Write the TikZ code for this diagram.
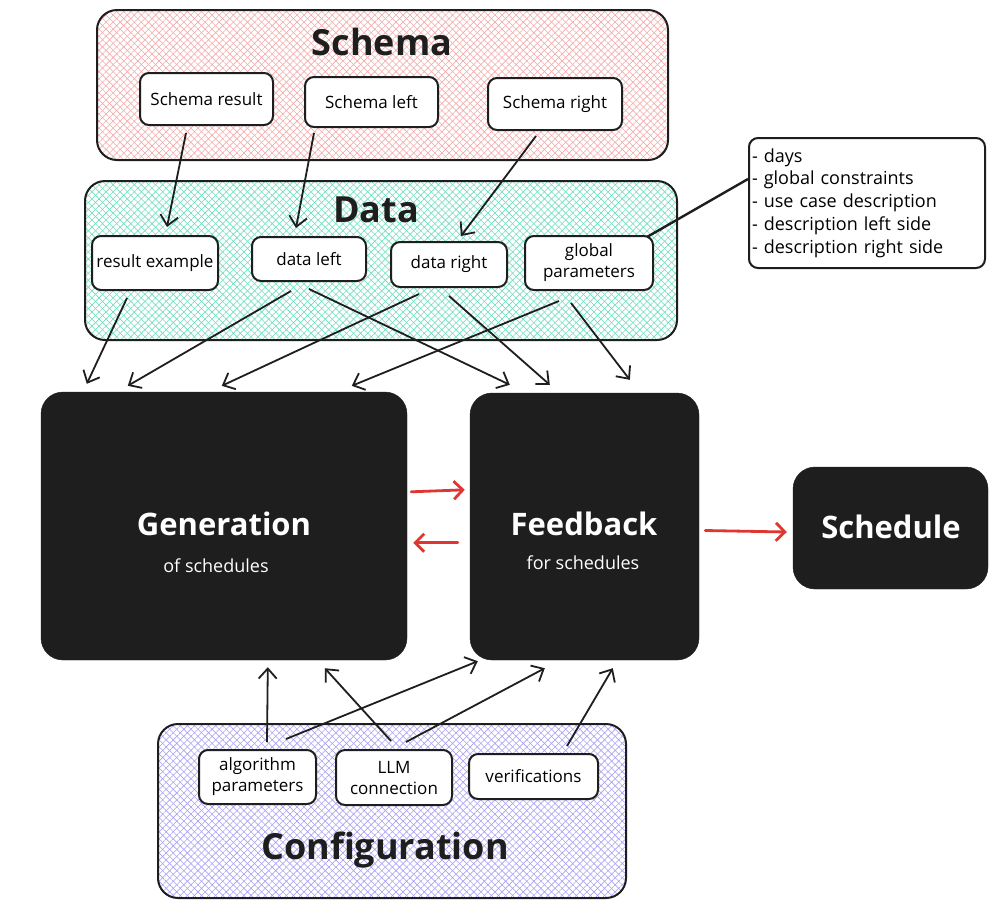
\documentclass[tikz,border=0pt]{standalone}
\usepackage{fontspec}
\setmainfont{Open Sans}
\usetikzlibrary{patterns.meta,arrows.meta,calc}
\definecolor{pinkline}{RGB}{244,170,170}
\definecolor{tealline}{RGB}{110,222,190}
\definecolor{lavline}{RGB}{170,160,245}
\definecolor{dark}{RGB}{30,30,30}
\definecolor{redarr}{RGB}{222,55,50}
\newcommand{\fsz}[2]{\fontsize{#1}{#2}\selectfont}
\tikzset{
  hatch/.style={preaction={pattern={Lines[angle=45,distance=5pt,line width=0.6pt]},pattern color=#1},
                preaction={pattern={Lines[angle=-45,distance=5pt,line width=0.6pt]},pattern color=#1}},
  group/.style={draw=dark,line width=2pt,rounded corners=20pt,inner sep=0pt,rectangle},
  wbox/.style={draw=dark,fill=white,line width=2pt,rounded corners=9pt,inner sep=1pt,align=center,font=\fsz{17}{21}},
  bbox/.style={fill=dark,draw=dark,rounded corners=22pt,inner sep=0pt},
  title/.style={font=\fsz{36}{40}\bfseries,text=dark},
  wtitle/.style={font=\fsz{31}{34}\bfseries,text=white},
  wsub/.style={font=\fsz{18}{20},text=white},
  arr/.style={draw=dark,line width=1.8pt,-{Straight Barb[length=10pt,width=18pt,line width=1.8pt]}},
  rarr/.style={draw=redarr,line width=2.8pt,line cap=round,-{Straight Barb[length=9pt,width=18pt,line width=2.8pt]}},
}
\begin{document}
\begin{tikzpicture}[x=1pt,y=-1pt]
\useasboundingbox (0,0) rectangle (993,906);
\fill[white] (0,0) rectangle (993,906);
% containers
\node[group,hatch=pinkline,minimum width=571pt,minimum height=150pt] (schema) at (382.5,85) {};
\node[group,hatch=tealline,minimum width=592pt,minimum height=159pt] (data) at (381,260.5) {};
\node[group,hatch=lavline,minimum width=468pt,minimum height=174pt] (config) at (392,811) {};
\node[title] (schematitle) at (382,42) {Schema};
\node[title] (datatitle) at (376,210) {Data};
\node[title] (configtitle) at (385,850) {Configuration};
% schema boxes
\node[wbox,minimum width=133pt,minimum height=52pt] (sres) at (206.5,99) {Schema result};
\node[wbox,minimum width=133pt,minimum height=50pt] (sl) at (371.5,102) {Schema left};
\node[wbox,minimum width=134pt,minimum height=52pt] (sr) at (555,104) {Schema right};
% data boxes
\node[wbox,minimum width=126pt,minimum height=54pt] (rex) at (155,263) {result example};
\node[wbox,minimum width=114pt,minimum height=44pt] (dl) at (309,259) {data left};
\node[wbox,minimum width=116pt,minimum height=45pt] (dr) at (449,264.5) {data right};
\node[wbox,minimum width=128pt,minimum height=54pt] (gp) at (589,263) {global\\parameters};
% notes
\node[wbox,minimum width=236pt,minimum height=130pt,text width=230pt,align=left,inner sep=3pt,font=\fsz{18}{22.8}] (notes) at (867,203)
  {- days\\- global constraints\\- use case description\\- description left side\\- description right side};
% config boxes
\node[wbox,minimum width=117pt,minimum height=54pt] (alg) at (257.5,777) {algorithm\\parameters};
\node[wbox,minimum width=116pt,minimum height=55pt] (llm) at (394,777.5) {LLM\\connection};
\node[wbox,minimum width=129pt,minimum height=45pt] (ver) at (533.5,776.5) {verifications};
% black boxes
\node[bbox,minimum width=366pt,minimum height=268pt] (gen) at (224,526) {};
\node[bbox,minimum width=229pt,minimum height=267pt] (fb) at (584.5,526.5) {};
\node[bbox,minimum width=195pt,minimum height=122pt] (sch) at (890.5,528) {};
\node[wtitle] (gentitle) at (224,524) {Generation};
\node[wsub] (gensub) at (216,566) {of schedules};
\node[wtitle] (fbtitle) at (584,524) {Feedback};
\node[wsub] (fbsub) at (583,563) {for schedules};
\node[wtitle] (schtitle) at (891,527) {Schedule};
% schema -> data
\draw[arr] ([xshift=47pt,yshift=-7pt]sres.south west) -- ([xshift=76pt,yshift=8pt]rex.north west);
\draw[arr] ([xshift=10pt,yshift=-5pt]sl.south west) -- ([xshift=45pt,yshift=8pt]dl.north west);
\draw[arr] ([xshift=49pt,yshift=-5pt]sr.south west) -- ([xshift=71pt,yshift=5pt]dr.north west);
% notes line
\draw[draw=dark,line width=2.4pt] ([xshift=-7pt,yshift=-2pt]gp.north east) -- ([yshift=-42pt]notes.north west);
% data -> gen / feedback
\draw[arr] ([xshift=36pt,yshift=-7pt]rex.south west) -- ([xshift=46pt,yshift=8pt]gen.north west);
\draw[arr] ([xshift=40pt,yshift=-9pt]dl.south west) -- ([xshift=87pt,yshift=6pt]gen.north west);
\draw[arr] ([xshift=58pt,yshift=-7pt]dl.south west) -- ([xshift=40pt,yshift=8pt]fb.north west);
\draw[arr] ([xshift=29pt,yshift=-6pt]dr.south west) -- ([xshift=181pt,yshift=6pt]gen.north west);
\draw[arr] ([xshift=59pt,yshift=-8pt]dr.south west) -- ([xshift=80pt,yshift=8pt]fb.north west);
\draw[arr] ([xshift=35pt,yshift=-10pt]gp.south west) -- ([xshift=311pt,yshift=6pt]gen.north west);
\draw[arr] ([xshift=47pt,yshift=-12pt]gp.south west) -- ([xshift=160pt,yshift=13pt]fb.north west);
% red arrows
\draw[rarr] ([xshift=4pt,yshift=-100pt]gen.north east) -- ([xshift=-5pt,yshift=-97pt]fb.north west);
\draw[rarr] ([xshift=-12pt,yshift=-150pt]fb.north west) -- ([xshift=6pt,yshift=-151pt]gen.north east);
\draw[rarr] ([xshift=6pt,yshift=-4pt]fb.east) -- ([xshift=-6pt,yshift=-4pt]sch.west);
% config -> gen / feedback
\draw[arr] ([xshift=69pt,yshift=7pt]alg.north west) -- ([xshift=227pt,yshift=-7pt]gen.south west);
\draw[arr] ([xshift=88pt,yshift=10pt]alg.north west) -- ([xshift=8pt,yshift=-1pt]fb.south west);
\draw[arr] ([xshift=56pt,yshift=8pt]llm.north west) -- ([xshift=284pt,yshift=-8pt]gen.south west);
\draw[arr] ([xshift=71pt,yshift=7pt]llm.north west) -- ([xshift=75pt,yshift=-8pt]fb.south west);
\draw[arr] ([xshift=99pt,yshift=7pt]ver.north west) -- ([xshift=143pt,yshift=-8pt]fb.south west);
\end{tikzpicture}
\end{document}
